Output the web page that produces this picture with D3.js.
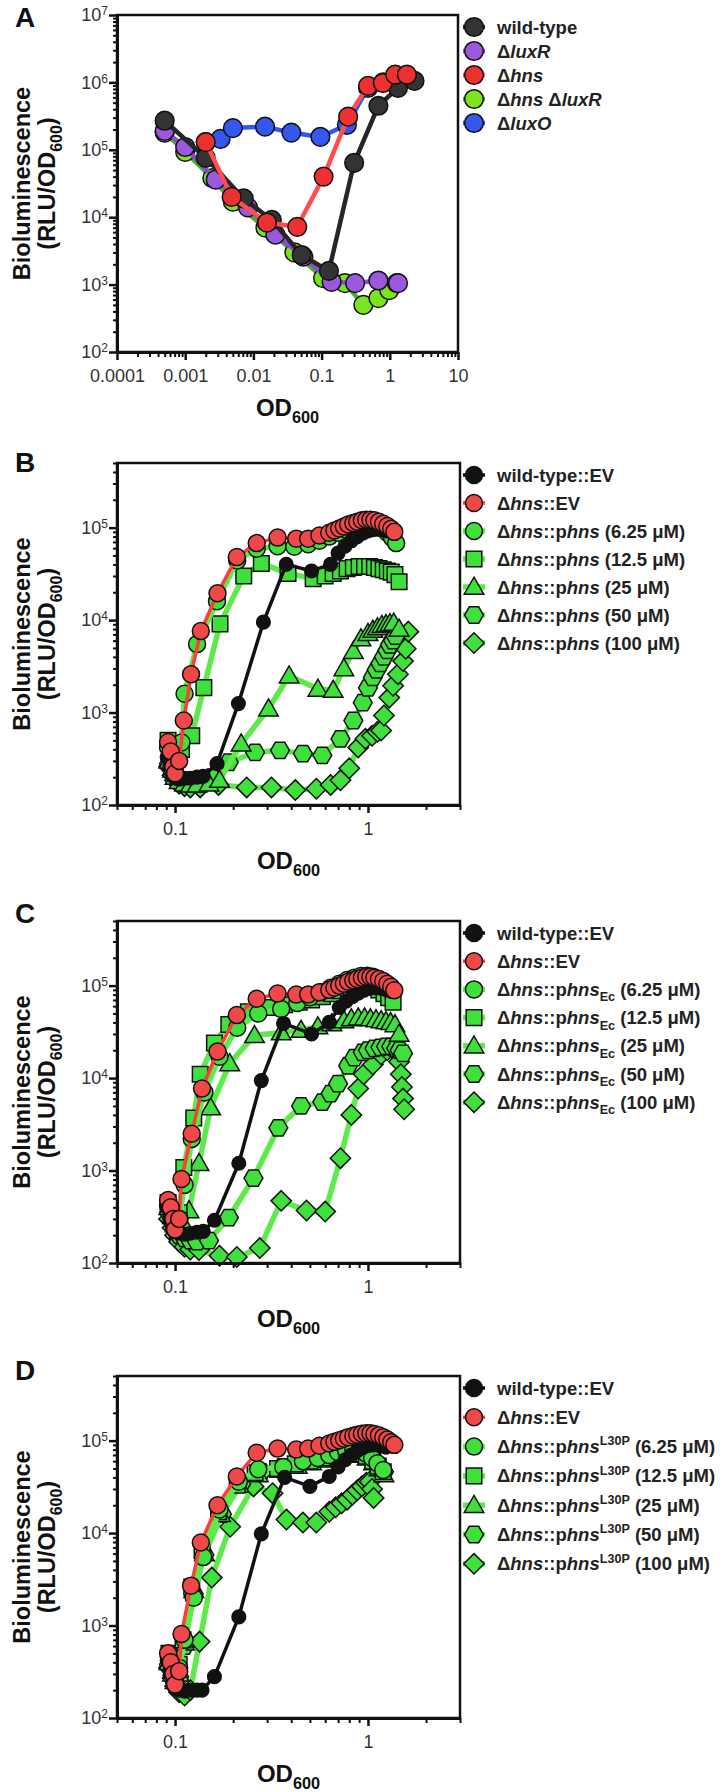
<!DOCTYPE html>
<html><head><meta charset="utf-8">
<script src="https://cdn.jsdelivr.net/npm/d3@7"></script>
<style>body{margin:0;background:#fff}svg{display:block}</style>
</head><body><svg id="c" width="728" height="1792"></svg>
<script>
// ---------- Panel A data ([OD600, RLU/OD600]) ----------
const A_wildtype = [[0.0005,2.7e5],[0.002,7.6e4],[0.0072,1.9e4],[0.0186,9.1e3],[0.051,2.75e3],[0.128,1.6e3],[0.30,6.4e4],[0.68,4.5e5],[1.32,8.3e5],[2.3,1.05e6]];
const A_luxR = [[0.0005,1.9e5],[0.001,1.1e5],[0.0028,3.6e4],[0.0083,1.4e4],[0.021,5.5e3],[0.054,2.6e3],[0.14,1.1e3],[0.31,1.05e3],[0.68,1.15e3],[1.32,1.05e3]];
const A_hns = [[0.002,1.3e5],[0.0048,2.0e4],[0.0158,8.3e3],[0.044,7.2e3],[0.107,4.0e4],[0.245,3.1e5],[0.48,8.9e5],[0.79,9.8e5],[1.2,1.3e6],[1.78,1.3e6]];
const A_hnsluxR = [[0.0005,1.8e5],[0.001,9.3e4],[0.0025,3.8e4],[0.005,1.7e4],[0.015,7.0e3],[0.04,3.0e3],[0.105,1.25e3],[0.22,1.05e3],[0.41,5.0e2],[0.68,6.3e2],[0.98,8.3e2],[1.27,1.05e3]];
const A_luxO = [[0.002,1.3e5],[0.0033,1.45e5],[0.005,2.1e5],[0.0148,2.2e5],[0.036,1.8e5],[0.096,1.55e5],[0.235,2.35e5],[0.48,8.3e5],[0.8,1.0e6],[1.2,1.2e6]];

// ---------- Panel B data ----------
const B_wt = [[0.091,330],[0.094,260],[0.097,210],[0.1,195],[0.105,190],[0.112,195],[0.12,195],[0.13,200],[0.14,205],[0.165,280],[0.213,1250],[0.287,9500],[0.377,4.0e4],[0.51,3.4e4],[0.64,4.0e4],[0.70,5.3e4],[0.76,6.3e4],[0.82,7.2e4],[0.88,8.0e4],[0.94,8.7e4],[1.0,9.2e4],[1.06,9.5e4],[1.12,9.6e4],[1.18,9.5e4],[1.24,9.2e4]];
const B_ev = [[0.092,480],[0.095,380],[0.098,260],[0.1,220],[0.105,300],[0.111,820],[0.121,2600],[0.136,7600],[0.166,1.95e4],[0.209,4.8e4],[0.265,6.8e4],[0.34,7.8e4],[0.425,7.6e4],[0.49,7.6e4],[0.56,8.2e4],[0.63,8.8e4],[0.67,9.3e4],[0.71,9.8e4],[0.75,1.03e5],[0.79,1.08e5],[0.84,1.12e5],[0.88,1.16e5],[0.93,1.2e5],[0.98,1.22e5],[1.03,1.22e5],[1.08,1.2e5],[1.14,1.16e5],[1.2,1.1e5],[1.26,1.04e5],[1.32,9.7e4],[1.37,9.0e4]];
const B_p625 = [[0.092,420],[0.096,330],[0.1,260],[0.104,300],[0.108,475],[0.112,1600],[0.13,5500],[0.165,1.6e4],[0.21,4.4e4],[0.265,5.9e4],[0.34,6.3e4],[0.415,6.2e4],[0.49,6.6e4],[0.56,7.2e4],[0.63,8.0e4],[0.7,8.8e4],[0.77,9.5e4],[0.84,1.02e5],[0.91,1.07e5],[0.98,1.1e5],[1.05,1.1e5],[1.12,1.05e5],[1.19,9.8e4],[1.26,8.8e4],[1.33,7.8e4],[1.4,6.8e4]];
const B_p125 = [[0.092,500],[0.095,400],[0.1,330],[0.108,400],[0.122,560],[0.141,1860],[0.171,9100],[0.227,3.0e4],[0.28,4.1e4],[0.385,3.2e4],[0.52,2.8e4],[0.6,3.0e4],[0.66,3.2e4],[0.72,3.4e4],[0.78,3.6e4],[0.84,3.7e4],[0.9,3.8e4],[0.96,3.8e4],[1.02,3.8e4],[1.08,3.7e4],[1.14,3.6e4],[1.2,3.5e4],[1.26,3.4e4],[1.32,3.3e4],[1.38,3.1e4],[1.45,2.6e4]];
const B_p25 = [[0.093,300],[0.097,240],[0.1,200],[0.105,180],[0.112,170],[0.12,165],[0.13,165],[0.15,170],[0.17,186],[0.22,460],[0.305,1100],[0.39,2500],[0.55,1800],[0.66,1750],[0.75,3000],[0.84,4600],[0.92,6300],[1.0,7200],[1.06,7800],[1.12,8300],[1.18,8800],[1.24,9000],[1.3,9200],[1.36,9300],[1.45,8000]];
const B_p50 = [[0.093,280],[0.097,230],[0.1,200],[0.105,185],[0.112,175],[0.12,170],[0.135,170],[0.155,200],[0.19,290],[0.26,370],[0.35,390],[0.46,360],[0.58,345],[0.72,520],[0.84,820],[0.94,1280],[1.0,1850],[1.06,2400],[1.11,2900],[1.16,3400],[1.21,4000],[1.26,4700],[1.3,5400],[1.35,6000],[1.39,6700]];
const B_p100 = [[0.093,260],[0.097,210],[0.1,185],[0.105,170],[0.112,160],[0.12,155],[0.135,155],[0.168,165],[0.235,155],[0.316,155],[0.42,145],[0.54,150],[0.64,165],[0.72,185],[0.8,250],[0.89,420],[0.97,520],[1.05,560],[1.12,620],[1.17,640],[1.21,930],[1.29,1450],[1.35,1950],[1.43,2600],[1.52,3600],[1.57,4900],[1.62,7500]];

// ---------- Panel C data ----------
const C_wt = [[0.091,400],[0.094,300],[0.097,240],[0.1,220],[0.105,210],[0.112,205],[0.12,210],[0.13,215],[0.14,220],[0.16,290],[0.214,1200],[0.28,9400],[0.365,3.9e4],[0.51,3.0e4],[0.63,4.0e4],[0.71,5.8e4],[0.77,6.8e4],[0.83,7.6e4],[0.89,8.3e4],[0.95,8.9e4],[1.01,9.3e4],[1.07,9.5e4],[1.13,9.5e4],[1.19,9.3e4],[1.25,9.0e4]];
const C_ev = [[0.092,480],[0.095,400],[0.098,300],[0.1,230],[0.105,300],[0.108,810],[0.122,2500],[0.138,7700],[0.166,1.94e4],[0.209,4.8e4],[0.265,7.2e4],[0.34,8.2e4],[0.425,8.0e4],[0.49,8.0e4],[0.56,8.5e4],[0.63,9.0e4],[0.67,9.5e4],[0.71,1.0e5],[0.75,1.05e5],[0.79,1.1e5],[0.84,1.14e5],[0.88,1.18e5],[0.93,1.22e5],[0.98,1.25e5],[1.03,1.25e5],[1.08,1.22e5],[1.14,1.18e5],[1.2,1.12e5],[1.26,1.05e5],[1.32,9.7e4],[1.37,8.9e4]];
const C_p625 = [[0.092,420],[0.096,330],[0.1,260],[0.105,300],[0.112,700],[0.122,2200],[0.142,7000],[0.17,1.7e4],[0.21,3.5e4],[0.27,5.0e4],[0.355,5.6e4],[0.43,6.5e4],[0.5,7.5e4],[0.57,8.5e4],[0.64,9.5e4],[0.71,1.05e5],[0.78,1.15e5],[0.85,1.22e5],[0.92,1.27e5],[0.99,1.28e5],[1.06,1.25e5],[1.13,1.18e5],[1.2,1.1e5],[1.27,1.0e5],[1.34,9.0e4]];
const C_p125 = [[0.092,450],[0.096,350],[0.1,280],[0.105,350],[0.111,1080],[0.125,3700],[0.135,1.1e4],[0.16,2.4e4],[0.19,3.8e4],[0.24,5.2e4],[0.3,5.8e4],[0.37,6.2e4],[0.44,6.6e4],[0.51,7.0e4],[0.58,7.6e4],[0.65,8.2e4],[0.72,8.8e4],[0.79,9.4e4],[0.86,9.8e4],[0.93,1.0e5],[1.0,1.0e5],[1.07,9.6e4],[1.14,9.0e4],[1.21,8.2e4],[1.28,7.4e4],[1.35,6.6e4]];
const C_p25 = [[0.093,400],[0.097,320],[0.1,260],[0.105,220],[0.112,250],[0.118,370],[0.133,1200],[0.153,4800],[0.192,1.44e4],[0.258,2.9e4],[0.355,3.1e4],[0.45,3.3e4],[0.55,3.6e4],[0.65,3.9e4],[0.75,4.2e4],[0.82,4.4e4],[0.89,4.5e4],[0.96,4.5e4],[1.03,4.4e4],[1.1,4.3e4],[1.17,4.2e4],[1.24,4.1e4],[1.31,4.0e4],[1.38,3.8e4],[1.45,3.0e4]];
const C_p50 = [[0.093,350],[0.097,280],[0.1,230],[0.105,200],[0.112,185],[0.12,175],[0.13,170],[0.15,175],[0.19,310],[0.255,830],[0.343,2900],[0.45,5000],[0.58,5500],[0.64,6800],[0.70,8700],[0.79,1.36e4],[0.85,1.66e4],[0.94,1.9e4],[1.0,2.0e4],[1.08,2.1e4],[1.16,2.15e4],[1.24,2.2e4],[1.32,2.2e4],[1.4,2.1e4],[1.46,2.0e4],[1.52,1.85e4]];
const C_p100 = [[0.093,300],[0.097,240],[0.1,200],[0.105,170],[0.112,150],[0.12,140],[0.133,138],[0.17,120],[0.209,116],[0.275,145],[0.355,470],[0.48,370],[0.6,360],[0.72,1360],[0.82,4000],[0.89,7700],[0.95,1.1e4],[1.06,1.4e4],[1.17,1.8e4],[1.26,2.0e4],[1.33,2.1e4],[1.4,1.9e4],[1.45,1.5e4],[1.48,1.1e4],[1.5,8000],[1.52,6000],[1.54,4600]];

// ---------- Panel D data ----------
const D_wt = [[0.091,420],[0.094,320],[0.097,250],[0.1,210],[0.105,200],[0.112,195],[0.12,200],[0.13,200],[0.138,200],[0.16,280],[0.214,1240],[0.28,9800],[0.37,4.0e4],[0.5,3.2e4],[0.63,4.1e4],[0.7,5.2e4],[0.76,6.2e4],[0.82,7.0e4],[0.88,7.8e4],[0.94,8.4e4],[1.0,8.8e4],[1.06,9.0e4],[1.12,9.0e4],[1.18,8.8e4],[1.24,8.5e4]];
const D_ev = [[0.092,500],[0.095,400],[0.098,300],[0.1,230],[0.105,320],[0.108,810],[0.121,2700],[0.136,7900],[0.166,2.0e4],[0.209,4.1e4],[0.265,7.4e4],[0.34,8.2e4],[0.425,8.0e4],[0.49,8.2e4],[0.56,8.8e4],[0.63,9.3e4],[0.67,9.7e4],[0.71,1.01e5],[0.75,1.05e5],[0.79,1.09e5],[0.84,1.13e5],[0.88,1.16e5],[0.93,1.19e5],[0.98,1.2e5],[1.03,1.2e5],[1.08,1.18e5],[1.14,1.14e5],[1.2,1.09e5],[1.26,1.03e5],[1.32,9.6e4],[1.37,9.0e4]];
const D_p625 = [[0.093,450],[0.097,350],[0.1,280],[0.105,350],[0.112,700],[0.125,2000],[0.14,5500],[0.17,1.8e4],[0.214,3.6e4],[0.27,4.9e4],[0.364,5.2e4],[0.46,6.0e4],[0.55,6.5e4],[0.63,7.0e4],[0.7,7.5e4],[0.77,7.8e4],[0.84,8.0e4],[0.91,7.8e4],[0.98,7.2e4],[1.05,6.5e4],[1.12,5.7e4],[1.2,4.8e4]];
const D_p125 = [[0.093,500],[0.097,380],[0.1,300],[0.105,380],[0.11,700],[0.122,2600],[0.138,6500],[0.168,1.7e4],[0.21,3.3e4],[0.26,4.5e4],[0.34,5.0e4],[0.42,5.6e4],[0.5,6.0e4],[0.58,6.5e4],[0.66,7.0e4],[0.74,7.3e4],[0.82,7.5e4],[0.9,7.2e4],[0.98,6.8e4],[1.06,6.0e4],[1.13,5.3e4],[1.2,4.6e4]];
const D_p25 = [[0.093,400],[0.097,300],[0.1,250],[0.105,300],[0.112,650],[0.125,2400],[0.142,6000],[0.172,1.6e4],[0.215,3.3e4],[0.27,4.3e4],[0.35,4.8e4],[0.43,5.3e4],[0.51,5.8e4],[0.59,6.2e4],[0.67,6.7e4],[0.75,7.0e4],[0.83,7.2e4],[0.91,7.0e4],[0.99,6.5e4],[1.07,5.8e4],[1.14,5.0e4],[1.21,4.3e4]];
const D_p50 = [[0.093,380],[0.097,290],[0.1,240],[0.105,280],[0.112,600],[0.125,2200],[0.142,5800],[0.175,1.6e4],[0.22,3.4e4],[0.28,4.6e4],[0.36,5.2e4],[0.44,5.7e4],[0.52,6.2e4],[0.6,6.7e4],[0.68,7.2e4],[0.76,7.5e4],[0.84,7.7e4],[0.92,7.4e4],[1.0,6.8e4],[1.08,6.0e4],[1.15,5.2e4],[1.21,4.6e4]];
const D_p100 = [[0.093,350],[0.097,270],[0.1,220],[0.105,190],[0.112,175],[0.12,200],[0.134,670],[0.155,3300],[0.193,1.17e4],[0.255,3.2e4],[0.32,2.7e4],[0.378,1.4e4],[0.46,1.3e4],[0.54,1.3e4],[0.63,1.7e4],[0.68,1.9e4],[0.73,2.1e4],[0.78,2.3e4],[0.83,2.6e4],[0.88,2.9e4],[0.93,3.2e4],[0.98,3.5e4],[1.02,3.6e4],[1.05,3.0e4],[1.07,2.4e4]];

// ---------- Ticks & labels ----------
const A_xTicks = [0.0001,0.001,0.01,0.1,1,10];
const A_xTickLabels = ["0.0001","0.001","0.01","0.1","1","10"];
const A_yTicks = [1e2,1e3,1e4,1e5,1e6,1e7];
const BCD_xTicks = [0.1,1];
const BCD_xTickLabels = ["0.1","1"];
const BCD_yTicks = [1e2,1e3,1e4,1e5];
const concentrations = ["6.25","12.5","25","50","100"];
const panelLetters = ["A","B","C","D"];

const A_labels = [
  [["wild-type"]],
  [["Δ"],["luxR","i"]],
  [["Δ"],["hns","i"]],
  [["Δ"],["hns","i"],[" Δ"],["luxR","i"]],
  [["Δ"],["luxO","i"]]
];
function phnsLabels(tag){
  const out = [[["wild-type::EV"]],[["Δ"],["hns","i"],["::EV"]]];
  concentrations.forEach(c=>{
    const segs=[["Δ"],["hns","i"],["::p"],["hns","i"]];
    if(tag==="sub") segs.push(["Ec","sub"]);
    if(tag==="sup") segs.push(["L30P","sup"]);
    segs.push([" ("+c+" μM)"]);
    out.push(segs);
  });
  return out;
}

// ---------- drawing ----------
const FONT = "Arial, 'Liberation Sans', sans-serif";
const svg = d3.select('#c').style('font-family',FONT);
const GREEN_FILL = '#40e03c', GREEN_LINE = '#5eea4a';

function shapePath(t,cx,cy,s){
  if(t==='circle'){const r=8.5*s;return `M${cx-r},${cy}a${r},${r} 0 1,0 ${2*r},0a${r},${r} 0 1,0 ${-2*r},0Z`;}
  if(t==='square'){const h=7.8*s;return `M${cx-h},${cy-h}h${2*h}v${2*h}h${-2*h}Z`;}
  if(t==='triangle'){const w=9.8*s;return `M${cx},${cy-9.8*s}L${cx+w},${cy+7.2*s}L${cx-w},${cy+7.2*s}Z`;}
  if(t==='hexagon'){const R=9.4*s;let d='';for(let k=0;k<6;k++){const a=k*Math.PI/3;d+=(k?'L':'M')+(cx+R*Math.cos(a))+','+(cy+R*Math.sin(a));}return d+'Z';}
  if(t==='diamond'){const d=10.2*s;return `M${cx},${cy-d}L${cx+d},${cy}L${cx},${cy+d}L${cx-d},${cy}Z`;}
}

function addRich(textSel, segs, base){
  let shift=0;
  segs.forEach(([str,st])=>{
    const ts=textSel.append('tspan').text(str);
    let target=0;
    if(st==='i') ts.attr('font-style','italic');
    if(st==='sub'){ts.attr('font-size',base*0.68);target=base*0.3;}
    if(st==='sup'){ts.attr('font-size',base*0.68);target=-base*0.42;}
    if(target!==shift){ts.attr('dy',target-shift);shift=target;}
  });
}

function minorTicks(lo,hi){
  const out=[];
  for(let e=Math.floor(Math.log10(lo));e<=Math.ceil(Math.log10(hi));e++){
    for(let m=2;m<=9;m++){const v=m*Math.pow(10,e);if(v>=lo*0.999&&v<=hi*1.001)out.push(v);}
  }
  return out;
}

function drawPanel(p){
  const g=svg.append('g');
  const L=117;
  const x=d3.scaleLog().domain(p.xDomain).range([L,p.right]);
  const y=d3.scaleLog().domain(p.yDomain).range([p.bottom,p.top]);
  g.append('rect').attr('x',L).attr('y',p.top).attr('width',p.right-L).attr('height',p.bottom-p.top)
    .attr('fill','none').attr('stroke','#111').attr('stroke-width',2.5);

  const line=d3.line().x(d=>x(d[0])).y(d=>y(d[1]));
  p.drawOrder.forEach(i=>{
    const s=p.series[i];
    g.append('path').datum(s.data).attr('d',line).attr('fill','none').attr('stroke',s.line)
      .attr('stroke-width',s.lw).attr('stroke-linejoin','round').attr('stroke-linecap','round');
    g.append('g').selectAll('path').data(s.data).enter().append('path')
      .attr('d',d=>shapePath(s.shape,x(d[0]),y(d[1]),p.ms*(s.k||1))).attr('fill',s.fill)
      .attr('stroke','#111').attr('stroke-width',1.5);
  });

  // y axis
  const ya=g.append('g').attr('transform',`translate(${L},0)`)
    .call(d3.axisLeft(y).tickValues(p.yTicks).tickSize(8).tickSizeOuter(0).tickPadding(1).tickFormat(()=>''));
  ya.select('.domain').attr('stroke','#111').attr('stroke-width',3);
  ya.selectAll('.tick line').attr('stroke','#111').attr('stroke-width',2.5);
  ya.selectAll('.tick text').attr('font-size',18).attr('fill','#333').attr('font-family',FONT).each(function(d){
    const t=d3.select(this);
    t.append('tspan').text('10');
    t.append('tspan').attr('font-size',12).attr('dy','-0.5em').text(Math.round(Math.log10(d)));
  });
  g.append('g').attr('transform',`translate(${L},0)`)
    .call(d3.axisLeft(y).tickValues(minorTicks(p.yDomain[0],p.yDomain[1]).filter(v=>!p.yTicks.includes(v))).tickSize(4).tickSizeOuter(0).tickFormat(()=>''))
    .call(a=>{a.select('.domain').remove();a.selectAll('line').attr('stroke','#111').attr('stroke-width',2);});

  // x axis
  const xa=g.append('g').attr('transform',`translate(0,${p.bottom})`)
    .call(d3.axisBottom(x).tickValues(p.xTicks).tickSize(8).tickSizeOuter(0).tickPadding(9).tickFormat((d,i)=>p.xTickLabels[i]));
  xa.select('.domain').attr('stroke','#111').attr('stroke-width',3);
  xa.selectAll('.tick line').attr('stroke','#111').attr('stroke-width',2.5);
  xa.selectAll('.tick text').attr('font-size',18).attr('fill','#333').attr('font-family',FONT);
  g.append('g').attr('transform',`translate(0,${p.bottom})`)
    .call(d3.axisBottom(x).tickValues(minorTicks(p.xDomain[0],p.xDomain[1]).filter(v=>!p.xTicks.includes(v))).tickSize(5).tickSizeOuter(0).tickFormat(()=>''))
    .call(a=>{a.select('.domain').remove();a.selectAll('line').attr('stroke','#111').attr('stroke-width',2);});

  // titles
  const cy=(p.top+p.bottom)/2;
  g.append('text').attr('transform',`translate(30,${cy}) rotate(-90)`).attr('text-anchor','middle')
    .attr('font-size',23.5).attr('font-weight','bold').attr('fill','#111').text('Bioluminescence');
  const t2=g.append('text').attr('transform',`translate(55,${cy}) rotate(-90)`).attr('text-anchor','middle')
    .attr('font-size',23.5).attr('font-weight','bold').attr('fill','#111');
  addRich(t2,[["(RLU/OD"],["600","sub"],[")"]],23.5);
  const t3=g.append('text').attr('x',(L+p.right)/2).attr('y',p.bottom+64).attr('text-anchor','middle')
    .attr('font-size',24).attr('font-weight','bold').attr('fill','#111');
  addRich(t3,[["OD"],["600","sub"]],24);
  g.append('text').attr('x',15).attr('y',p.letterY).attr('font-size',28).attr('font-weight','bold')
    .attr('fill','#111').text(p.letter);

  // legend
  p.labels.forEach((segs,i)=>{
    const s=p.series[i];
    const ly=p.top+12+i*p.legendStep;
    g.append('line').attr('x1',463).attr('x2',485).attr('y1',ly).attr('y2',ly)
      .attr('stroke',s.line).attr('stroke-width',s.lw);
    g.append('path').attr('d',shapePath(s.shape,474,ly,p.ms)).attr('fill',s.fill).attr('stroke','#111').attr('stroke-width',1.5);
    const tx=g.append('text').attr('x',497).attr('y',ly+6.5).attr('font-size',18.5).attr('font-weight','bold').attr('fill','#222');
    addRich(tx,segs,18.5);
  });
}

// Panel A
drawPanel({
  letter:panelLetters[0],letterY:27,top:15,bottom:352,right:458,
  xDomain:[1e-4,10],yDomain:[1e2,1e7],xTicks:A_xTicks,xTickLabels:A_xTickLabels,yTicks:A_yTicks,
  ms:1.1,legendStep:24,labels:A_labels,
  series:[
    {data:A_wildtype,shape:'circle',fill:'#333333',line:'#262626',lw:4.5},
    {data:A_luxR,shape:'circle',fill:'#9a58de',line:'#8a4ad8',lw:4.5},
    {data:A_hns,shape:'circle',fill:'#ee3030',line:'#ff4d4d',lw:4.5},
    {data:A_hnsluxR,shape:'circle',fill:'#7be41f',line:'#4caf2a',lw:4.5},
    {data:A_luxO,shape:'circle',fill:'#3557ee',line:'#2f55f5',lw:4.5}
  ],
  drawOrder:[4,3,1,0,2]
});

function bcdSeries(wt,ev,p1,p2,p3,p4,p5){
  return [
    {data:wt,shape:'circle',fill:'#111',line:'#111',lw:3.5,k:0.8},
    {data:ev,shape:'circle',fill:'#f04848',line:'#ff3b3b',lw:3.5},
    {data:p1,shape:'circle',fill:GREEN_FILL,line:GREEN_LINE,lw:5.5},
    {data:p2,shape:'square',fill:GREEN_FILL,line:GREEN_LINE,lw:5.5},
    {data:p3,shape:'triangle',fill:GREEN_FILL,line:GREEN_LINE,lw:5.5},
    {data:p4,shape:'hexagon',fill:GREEN_FILL,line:GREEN_LINE,lw:5.5},
    {data:p5,shape:'diamond',fill:GREEN_FILL,line:GREEN_LINE,lw:5.5}
  ];
}
const bcdOrder=[6,5,4,3,2,0,1];

drawPanel({
  letter:panelLetters[1],letterY:472,top:463,bottom:805,right:460,
  xDomain:[0.05,3],yDomain:[1e2,5e5],xTicks:BCD_xTicks,xTickLabels:BCD_xTickLabels,yTicks:BCD_yTicks,
  ms:1,legendStep:28,labels:phnsLabels(null),
  series:bcdSeries(B_wt,B_ev,B_p625,B_p125,B_p25,B_p50,B_p100),drawOrder:bcdOrder
});
drawPanel({
  letter:panelLetters[2],letterY:923,top:921,bottom:1263,right:460,
  xDomain:[0.05,3],yDomain:[1e2,5e5],xTicks:BCD_xTicks,xTickLabels:BCD_xTickLabels,yTicks:BCD_yTicks,
  ms:1,legendStep:28.2,labels:phnsLabels('sub'),
  series:bcdSeries(C_wt,C_ev,C_p625,C_p125,C_p25,C_p50,C_p100),drawOrder:bcdOrder
});
drawPanel({
  letter:panelLetters[3],letterY:1380,top:1376,bottom:1718,right:460,
  xDomain:[0.05,3],yDomain:[1e2,5e5],xTicks:BCD_xTicks,xTickLabels:BCD_xTickLabels,yTicks:BCD_yTicks,
  ms:1,legendStep:29.3,labels:phnsLabels('sup'),
  series:bcdSeries(D_wt,D_ev,D_p625,D_p125,D_p25,D_p50,D_p100),drawOrder:bcdOrder
});
</script></body></html>
